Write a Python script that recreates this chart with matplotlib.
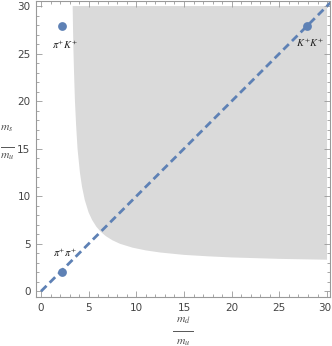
import matplotlib
matplotlib.use("Agg")
import matplotlib.pyplot as plt
from matplotlib.lines import Line2D
from matplotlib.ticker import MultipleLocator
from matplotlib.transforms import ScaledTranslation

plt.rcParams['mathtext.fontset'] = 'stix'

# boundary of the shaded region
boundary_x = [3.32, 3.36, 3.41, 3.48, 3.56, 3.68, 3.83, 4.08, 4.30, 4.59, 4.99, 5.36, 5.80, 6.26,
              6.80, 7.50, 8.30, 9.60, 11.0, 12.5, 15.0, 17.5, 20.0, 25.0, 30.0]
boundary_y = [30.0, 27.5, 25.0, 22.5, 20.0, 17.5, 15.0, 12.5, 11.0, 9.60, 8.30, 7.50, 6.80, 6.26,
              5.80, 5.36, 4.99, 4.59, 4.30, 4.08, 3.83, 3.68, 3.56, 3.41, 3.32]
corner = (30.0, 30.0)

# points
point_names = [r'$\pi^{+}\pi^{+}$', r'$\pi^{+}K^{+}$', r'$K^{+}K^{+}$']
point_x = [2.17, 2.17, 27.9]
point_y = [2.08, 27.9, 27.9]
label_x = [2.5, 2.55, 28.2]
label_y = [4.05, 25.95, 26.1]

# ticks
tick_vals = [0, 5, 10, 15, 20, 25, 30]
tick_labels = ['0', '5', '10', '15', '20', '25', '30']

# diagonal line
diag_x = [0, 32]
diag_y = [0, 32]

W, H = 332, 346
fig = plt.figure(figsize=(W / 100, H / 100), dpi=100)
ax = fig.add_axes([36 / W, (H - 297) / H, (330 - 36) / W, (297 - 1) / H])

poly_x = boundary_x + [corner[0]]
poly_y = boundary_y + [corner[1]]
ax.fill(poly_x, poly_y, color='#dadada', lw=0, zorder=1)

blue = '#5e81b5'
ax.plot(diag_x, diag_y, color=blue, lw=2.0, dashes=(2.8, 1.6), zorder=2, clip_on=True)
ax.scatter(point_x, point_y, s=40, color=blue, zorder=3, lw=0)
for n, lx, ly in zip(point_names, label_x, label_y):
    ax.text(lx, ly, n, ha='center', va='center', fontsize=7.5, color='#222222')

ax.set_xlim(-0.525, 30.31)
ax.set_ylim(-0.6, 30.53)

gray = '#999999'
for s in ax.spines.values():
    s.set_color(gray)
    s.set_linewidth(0.8)
ax.set_xticks(tick_vals)
ax.set_xticklabels(tick_labels)
ax.set_yticks(tick_vals)
ax.set_yticklabels(tick_labels)
ax.xaxis.set_minor_locator(MultipleLocator(1))
ax.yaxis.set_minor_locator(MultipleLocator(1))
ax.tick_params(which='both', direction='in', top=True, right=True, color=gray, width=0.6,
               labelsize=7.5, labelcolor='#444444')
ax.tick_params(which='major', length=4, pad=4)
ax.tick_params(which='minor', length=2)
last = ax.get_xticklabels()[-1]
last.set_transform(last.get_transform() + ScaledTranslation(-2.5 / 100, 0, fig.dpi_scale_trans))

# x label fraction
cx = 183 / W
fig.text(cx, 1 - 320 / H, r'$m_d$', ha='center', va='center', fontsize=8.5, color='#555555')
fig.add_artist(Line2D([cx - 10 / W, cx + 10 / W], [1 - 331 / H, 1 - 331 / H], color='#555555', lw=0.7,
                      transform=fig.transFigure))
fig.text(cx, 1 - 341 / H, r'$m_u$', ha='center', va='center', fontsize=8.5, color='#555555')

# y label fraction
cy = 7 / W
fig.text(cy, 1 - 128 / H, r'$m_s$', ha='center', va='center', fontsize=8.5, color='#555555')
fig.add_artist(Line2D([cy - 6 / W, cy + 7 / W], [1 - 147 / H, 1 - 147 / H], color='#555555', lw=0.7,
                      transform=fig.transFigure))
fig.text(cy, 1 - 156 / H, r'$m_u$', ha='center', va='center', fontsize=8.5, color='#555555')

fig.savefig('out.png', dpi=100)
